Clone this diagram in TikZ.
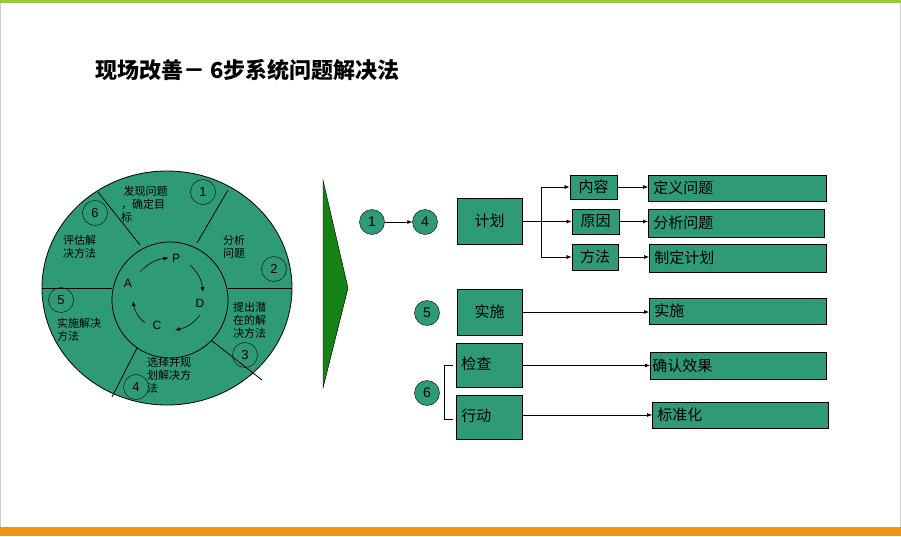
\documentclass[tikz,border=0pt]{standalone}
\usepackage{fontspec}
\setmainfont{Liberation Sans}
\newfontfamily\cjk{Noto Sans CJK SC}
\usetikzlibrary{arrows.meta}
\definecolor{tg}{RGB}{46,154,120}
\definecolor{dg}{RGB}{20,130,20}
\definecolor{topg}{RGB}{150,200,60}
\definecolor{org}{RGB}{240,150,20}
\begin{document}
\begin{tikzpicture}[x=1pt,y=-1pt,
  bx/.style={draw=black,fill=tg,line width=0.8pt},
  num/.style={circle,draw=black,fill=tg,minimum size=25pt,inner sep=0pt,font=\fontsize{14}{14}\selectfont},
  wn/.style={circle,draw=black,minimum size=25pt,inner sep=0pt,font=\fontsize{13}{13}\selectfont},
  wt/.style={align=left,font=\cjk\fontsize{11}{13}\selectfont,inner sep=0pt},
  bt/.style={font=\cjk\fontsize{15}{15}\selectfont,inner sep=0pt},
  ar/.style={-{Latex[length=5pt,width=4pt]},line width=0.6pt}]
\useasboundingbox (0,0) rectangle (901,536);
\fill[white] (0,0) rectangle (901,536);
\draw[gray!40] (0.5,0.5) rectangle (900.5,535.5);
\fill[topg] (0,0) rectangle (901,3);
\fill[org] (0,527) rectangle (901,536);
\node[anchor=west,font=\cjk\bfseries\fontsize{22}{22}\selectfont,inner sep=0pt] (title) at (95,70) {现场改善－ \textbf{6}步系统问题解决法};
% wheel
\draw[fill=tg,line width=0.8pt] (167,288) ellipse (125 and 117);
\draw[line width=0.8pt] (42,288) -- (112,288);
\draw[line width=0.8pt] (228,288) -- (292,288);
\draw[line width=0.8pt] (98,192) -- (140,245);
\draw[line width=0.8pt] (228,190) -- (197,243);
\draw[line width=0.8pt] (207,337) -- (262,380);
\draw[line width=0.8pt] (140,342) -- (112,397);
\draw[fill=tg,line width=0.8pt] (170,300) circle (58);
\node[wn] (w1) at (203,192) {1};
\node[wn] (w6) at (95,213) {6};
\node[wn] (w2) at (274,269) {2};
\node[wn] (w5) at (61,300) {5};
\node[wn] (w3) at (245,355) {3};
\node[wn] (w4) at (136,387) {4};
\node[wt,anchor=north west] (t1) at (121,186) {\ 发现问题\\，确定目\\标};
\node[wt,anchor=north west] (t2) at (223,235) {分析\\问题};
\node[wt,anchor=north west] (t6) at (63,235) {评估解\\决方法};
\node[wt,anchor=north west] (t3) at (233,302) {提出潜\\在的解\\决方法};
\node[wt,anchor=north west] (t5) at (57,318) {实施解决\\方法};
\node[wt,anchor=north west] (t4) at (147,357) {选择并规\\划解决方\\法};
\node[font=\fontsize{12}{12}\selectfont] (P) at (176,258) {P};
\node[font=\fontsize{12}{12}\selectfont] (D) at (200,303) {D};
\node[font=\fontsize{12}{12}\selectfont] (C) at (157,325) {C};
\node[font=\fontsize{12}{12}\selectfont] (A) at (128,283) {A};
\draw[ar] (140,272) to[bend left=20] (P.west);
\draw[ar] (190,265) to[bend left=20] (203,292);
\draw[ar] (200,315) to[bend left=20] (175,330);
\draw[ar] (145,323) to[bend left=20] (133,301);
% triangle
\draw[fill=dg] (323,180) -- (348,288) -- (323,388) -- cycle;
% right
\node[num] (n1) at (372,222) {1};
\node[num] (n4) at (425,222) {4};
\draw[ar] (n1) -- (n4);
\node[bx,bt,minimum width=65pt,minimum height=46pt] (plan) at (489.5,221) {计划};
\node[bx,bt,minimum width=47pt,minimum height=24pt] (nr) at (593.5,187) {内容};
\node[bx,bt,minimum width=47pt,minimum height=25pt] (yy) at (595.5,221.5) {原因};
\node[bx,bt,minimum width=46pt,minimum height=26pt] (ff) at (595,257) {方法};
\node[bx,bt,minimum width=178pt,minimum height=26pt,anchor=west,text width=168pt,align=left] (r1) at (648,188) {定义问题};
\node[bx,bt,minimum width=176pt,minimum height=28pt,anchor=west,text width=166pt,align=left] (r2) at (648,223) {分析问题};
\node[bx,bt,minimum width=177pt,minimum height=28pt,anchor=west,text width=167pt,align=left] (r3) at (649,258) {制定计划};
\draw[line width=0.6pt] (plan.east) -- (541,221);
\draw[ar] (541,187) -- (nr.west);
\draw[ar] (541,221.5) -- (yy.west);
\draw[ar] (541,257) -- (ff.west);
\draw[line width=0.6pt] (541,187) -- (541,257);
\draw[ar] (nr.east) -- (nr.east -| r1.west);
\draw[ar] (yy.east) -- (yy.east -| r2.west);
\draw[ar] (ff.east) -- (ff.east -| r3.west);
\node[num] (n5) at (427,313) {5};
\node[bx,bt,minimum width=65pt,minimum height=46pt] (ss) at (489.5,312) {实施};
\node[bx,bt,minimum width=177pt,minimum height=26pt,anchor=west,text width=167pt,align=left] (r4) at (649,311) {实施};
\draw[ar] (ss.east) -- (ss.east -| r4.west);
\node[bx,bt,minimum width=66pt,minimum height=44pt,anchor=north west,text width=56pt,align=left] (jc) at (456,343) {\raisebox{4pt}{检查}};
\node[bx,bt,minimum width=66pt,minimum height=44pt,anchor=north west,text width=56pt,align=left] (xd) at (456,395) {\raisebox{4pt}{行动}};
\node[bx,bt,minimum width=176pt,minimum height=27pt,anchor=west,text width=172pt,align=left] (r5) at (650,365.5) {确认效果};
\node[bx,bt,minimum width=176pt,minimum height=26pt,anchor=west,text width=166pt,align=left] (r6) at (652,415) {标准化};
\draw[ar] (jc.east |- r5.west) -- (r5.west);
\draw[ar] (xd.east |- r6.west) -- (r6.west);
\node[num] (n6) at (427,393) {6};
\coordinate (b1) at (453,365);
\coordinate (b2) at (453,419);
\draw[line width=0.6pt] (b1) -- (444,365) -- (444,419) -- (b2);
\end{tikzpicture}
\end{document}
